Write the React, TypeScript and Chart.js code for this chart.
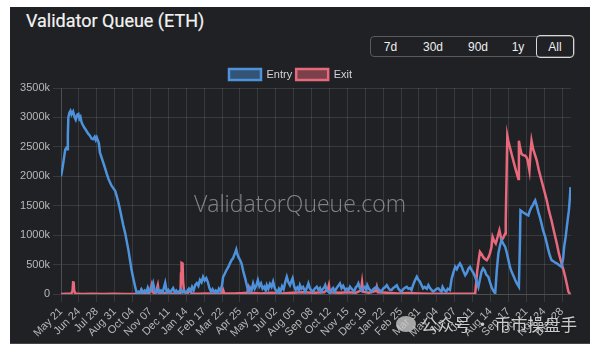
import React, { useEffect, useRef } from 'react';
import { Chart, registerables } from 'chart.js';

Chart.register(...registerables);

// Day offsets from 2023-05-21 and queue sizes in thousands of ETH
const entryDays = [
  0, 3, 6, 8, 10, 12, 13, 14, 16, 18, 20, 23, 26, 28, 31, 33, 35, 37, 39, 41, 44, 47, 49, 52, 55, 58, 61, 64, 66, 68, 70, 72, 74, 77, 80, 84, 87, 90, 93, 96, 100, 103, 106, 109, 112, 115, 118, 122, 125, 128, 131, 134, 137, 141, 144,
  147, 150, 153, 156, 159, 162, 165, 168, 171, 175, 178, 181, 184, 187, 190, 193, 196, 198, 201, 204, 207, 210, 213, 216, 219, 222, 225, 228, 231, 234, 237, 240, 243, 246, 249, 252, 255, 258, 261, 264, 267, 270, 273, 276, 279, 282, 285, 288, 291, 294, 297, 300, 303, 306,
  308, 311, 314, 318, 321, 324, 327, 329, 331, 333, 335, 337, 340, 343, 346, 348, 350, 353, 356, 359, 362, 365, 368, 371, 374, 377, 380, 383, 386, 389, 391, 394, 397, 400, 403, 406, 409, 411, 414, 417, 420, 423, 426, 429, 432, 435, 438, 440, 443, 446, 449, 452, 454, 457, 460, 464, 467, 470, 473, 476, 479, 482, 486, 489, 492, 494, 497, 500, 502, 505, 508, 511, 514, 517, 520, 523, 526, 530, 533, 536, 540, 543, 546, 549, 552, 555, 557, 560, 563, 565, 568, 571, 574, 577, 580, 582, 585, 588, 590, 593, 596, 600, 603, 606, 609, 612, 615, 619, 622, 625, 628, 631, 634, 638, 641, 644, 647, 650, 654, 657, 660, 663, 666, 669, 672, 676, 679, 682, 685, 688, 691, 695, 698, 701, 704, 707, 710, 714, 717, 720, 723, 725, 728, 732, 735, 739,
  742, 745, 749, 752, 755, 758, 761, 764, 768, 771, 774, 777, 780, 784, 787, 790, 793, 796, 799, 802, 805, 808, 812, 815, 818, 821, 825, 828, 831, 834, 837, 840, 844, 847, 850, 853, 856, 860, 863, 866, 870, 872, 873, 876, 879, 882, 885, 888, 891, 894, 897, 899, 901, 904, 907, 910, 913, 916, 920, 923, 926, 929, 932, 935, 938, 942, 945, 948, 951, 954, 956, 959, 961, 963, 965, 967, 968,
];
const entryValues = [
  2000, 2150, 2330, 2450, 2480, 2460, 2700, 3000, 3080, 3110, 3050, 3100, 3000, 2960, 3050, 3060, 2980, 3010, 2920, 2880, 2830, 2790, 2760, 2720, 2690, 2640, 2630, 2670, 2620, 2660, 2610, 2560, 2400, 2320, 2240, 2130, 2040, 1960, 1900, 1840, 1790, 1750, 1660, 1560, 1440, 1310, 1180, 1030, 890, 750, 580, 410, 280, 120, 10,
  40, 20, 80, 30, 60, 20, 110, 40, 70, 185, 50, 20, 90, 30, 60, 20, 120, 190, 40, 70, 20, 60, 100, 30, 60, 20, 50, 80, 30, 60, 20, 50, 90, 40, 120, 60, 150, 185, 140, 240, 200, 290, 230, 270, 200, 100, 40, 80, 30, 60, 20, 90, 50, 150,
  290, 340, 400, 460, 520, 575, 610, 660, 700, 755, 680, 630, 580, 520, 400, 330, 265, 150, 40, 110, 60, 180, 90, 140, 237, 130, 180, 90, 123, 60, 150, 90, 170, 120, 208, 100, 50, 20, 90, 40, 130, 80, 200, 293, 200, 150, 220, 265, 130, 68, 110, 60, 150, 90, 120, 40, 100, 180, 90, 60, 40, 90, 123, 70, 100, 40, 80, 110, 150, 60, 40, 10, 70, 100, 40, 90, 130, 180, 100, 140, 68, 90, 60, 123, 90, 60, 40, 110, 140, 180, 100, 60, 96, 120, 70, 150, 90, 60, 40, 80, 100, 123, 80, 60, 40, 90, 110, 150, 100, 70, 68, 100, 120, 150, 90, 60, 40, 80, 110, 123, 90, 100, 68, 150, 220, 293, 240, 208, 150, 96, 120, 90, 150, 100, 70, 40, 60, 90, 96, 60, 40, 120, 70, 40, 90, 68,
  250, 350, 460, 420, 480, 520, 470, 400, 320, 360, 430, 460, 410, 350, 290, 200, 120, 250, 380, 435, 400, 330, 290, 200, 120, 60, 10, 400, 690, 820, 913, 860, 800, 700, 580, 460, 380, 300, 237, 180, 123, 900, 1420, 1400, 1380, 1365, 1350, 1336, 1420, 1477, 1520, 1560, 1590, 1500, 1392, 1300, 1195, 1080, 970, 860, 744, 650, 575, 560, 540, 520, 500, 480, 460, 600, 800, 980, 1138, 1280, 1420, 1650, 1815,
];

const exitDays = [
  0, 10, 20, 22, 23, 24, 25, 27, 40, 60, 80, 100, 120, 140, 150, 152, 155, 168, 172, 174, 180, 184, 186, 195, 205, 207, 220, 227, 228, 229, 231, 232, 234, 240, 246, 248, 260, 275, 290, 305, 308, 310, 330, 345, 354, 356, 358, 380, 400, 420, 440, 460, 480, 500, 507, 509, 511, 530, 545, 560, 570, 572, 574, 585, 598, 600, 602, 620, 640, 660, 680, 700, 720, 740, 760, 780, 787,
  791, 794, 796, 799, 802, 805, 809, 812, 815, 818, 820, 823, 826, 829, 833, 835, 837, 840, 844, 845, 847, 848, 850, 853, 857, 861, 865, 869, 870, 872, 875, 878, 882, 884, 886, 888, 890, 892, 894, 897, 900, 904, 908, 913, 918, 923, 927, 932, 937, 942, 946, 951, 955, 958, 961, 964, 966, 968,
];
const exitValues = [
  0, 5, 10, 60, 200, 210, 60, 10, 0, 5, 0, 5, 0, 5, 10, 60, 10, 20, 150, 30, 10, 150, 20, 10, 30, 10, 5, 20, 350, 530, 520, 200, 30, 10, 70, 10, 5, 10, 5, 10, 70, 10, 10, 15, 20, 100, 20, 10, 20, 10, 20, 30, 20, 30, 80, 150, 30, 20, 30, 20, 60, 200, 40, 20, 50, 120, 30, 20, 10, 15, 10, 5, 5, 5, 5, 5, 10,
  406, 600, 716, 680, 630, 600, 575, 620, 690, 800, 970, 900, 857, 950, 1082, 1000, 913, 950, 1026, 1250, 2200, 2690, 2600, 2490, 2350, 2210, 2080, 1956, 2605, 2500, 2380, 2360, 2350, 2330, 2295, 2200, 2097, 2400, 2605, 2464, 2380, 2266, 2100, 1928, 1760, 1590, 1420, 1250, 1050, 857, 690, 520, 400, 293, 170, 40, 10, 0,
];

const tickLabels = [
  'May 21', 'Jun 24', 'Jul 28', 'Aug 31', 'Oct 04', 'Nov 07', 'Dec 11', 'Jan 14', 'Feb 17', 'Mar 22',
  'Apr 25', 'May 29', 'Jul 02', 'Aug 05', 'Sep 08', 'Oct 12', 'Nov 15', 'Dec 19', 'Jan 22', 'Feb 25',
  'Mar 31', 'May 04', 'Jun 07', 'Jul 11', 'Aug 14', 'Sep 17', 'Oct 21', 'Nov 24', 'Dec 28',
];
const TICK_STEP_DAYS = 34;
const LAST_DAY = 969;
const yTickStep = 500000;
const yMax = 3500000;

const rangeButtons = ['7d', '30d', '90d', '1y', 'All'];

const BLUE = 'rgb(78,146,220)';
const PINK = 'rgb(232,104,124)';
const GRID = 'rgba(255,255,255,0.11)';
const TICK_COLOR = '#b8b8b8';
const FONT = '"Liberation Sans", Arial, Helvetica, sans-serif';

const legendSpacer = {
  id: 'legendSpacer',
  beforeInit(chart: any) {
    const origFit = chart.legend.fit;
    chart.legend.fit = function fit() {
      origFit.call(this);
      this.height -= 2;
    };
  },
};

export default function App() {
  const ref = useRef<HTMLCanvasElement>(null);

  useEffect(() => {
    if (!ref.current) return;
    const chart = new Chart(ref.current, {
      type: 'line',
      plugins: [legendSpacer],
      data: {
        datasets: [
          {
            label: 'Entry',
            data: entryDays.map((d, i) => ({ x: d, y: entryValues[i] * 1000 })),
            borderColor: BLUE,
            backgroundColor: 'rgba(78,146,220,0.45)',
            borderWidth: 2.5,
            pointRadius: 0,
            tension: 0,
          },
          {
            label: 'Exit',
            data: exitDays.map((d, i) => ({ x: d, y: exitValues[i] * 1000 })),
            borderColor: PINK,
            backgroundColor: 'rgba(232,104,124,0.45)',
            borderWidth: 2.5,
            pointRadius: 0,
            tension: 0,
          },
        ],
      },
      options: {
        animation: false,
        responsive: false,
        devicePixelRatio: 1,
        layout: { padding: { left: 0, right: 19, top: 0, bottom: 0 } },
        plugins: {
          legend: {
            labels: {
              color: '#d4d4d4',
              boxWidth: 32,
              boxHeight: 11,
              padding: 4,
              font: { size: 11, family: FONT },
            },
          },
          tooltip: { enabled: false },
        },
        scales: {
          x: {
            type: 'linear',
            min: 0,
            max: LAST_DAY,
            afterBuildTicks: (scale: any) => {
              scale.ticks = tickLabels.map((_, i) => ({ value: i * TICK_STEP_DAYS }));
            },
            afterFit: (scale: any) => {
              scale.height = 49;
            },
            ticks: {
              autoSkip: false,
              maxRotation: 45,
              minRotation: 45,
              color: TICK_COLOR,
              font: { size: 11, family: FONT },
              callback: (_v: any, i: number) => tickLabels[i],
            },
            grid: { color: GRID },
            border: { color: GRID },
          },
          y: {
            min: 0,
            max: yMax,
            afterFit: (scale: any) => {
              scale.width = 51;
            },
            ticks: {
              stepSize: yTickStep,
              color: TICK_COLOR,
              font: { size: 11, family: FONT },
              callback: (v: any) => (v === 0 ? '0' : `${Number(v) / 1000}k`),
            },
            grid: { color: GRID },
            border: { color: GRID },
          },
        },
      },
    });
    return () => chart.destroy();
  }, []);

  const btnWidths = [39, 46, 44, 36, 38];

  return (
    <div style={{ position: 'absolute', left: 0, top: 0, width: 600, height: 355, background: '#ffffff', overflow: 'hidden', fontFamily: FONT }}>
      <div style={{ position: 'absolute', left: 10, top: 7, width: 580, height: 336, background: '#1f2124', borderBottom: '1px solid #444' }} />
      <div style={{ position: 'absolute', left: 26, top: 10, color: '#f2f2f2', fontFamily: 'Roboto, "Liberation Sans", sans-serif', fontWeight: 400, fontSize: 18, lineHeight: '22px', letterSpacing: 0, WebkitTextStroke: '0.2px #f2f2f2' } as any}>
        Validator Queue (ETH)
      </div>
      <div style={{ position: 'absolute', left: 370, top: 36, height: 21, display: 'flex', border: '1px solid #5a5a5a', borderRadius: 4, boxSizing: 'border-box' }}>
        {rangeButtons.map((b, i) => (
          <div
            key={b}
            style={{
              width: btnWidths[i],
              height: i === 4 ? 23 : 19,
              marginTop: i === 4 ? -2 : 0,
              boxSizing: 'border-box',
              display: 'flex',
              alignItems: 'center',
              justifyContent: 'center',
              color: '#eeeeee',
              fontSize: 12,
              borderLeft: i > 0 && i < 4 ? '1px solid #5a5a5a' : 'none',
              border: i === 4 ? '1.5px solid #d8d8d8' : undefined,
              borderRadius: i === 4 ? 4 : 0,
            }}
          >
            {b}
          </div>
        ))}
      </div>
      <canvas ref={ref} width={580} height={278} style={{ position: 'absolute', left: 10, top: 65, width: 580, height: 278 }} />
      <div style={{ position: 'absolute', left: 0, width: 600, top: 187, textAlign: 'center', color: 'rgba(210,210,210,0.55)', fontSize: 23, fontFamily: '"Open Sans", "Liberation Sans", sans-serif', fontWeight: 300, pointerEvents: 'none' }}>
        ValidatorQueue.com
      </div>
      <div style={{ position: 'absolute', left: 396, top: 312, display: 'flex', alignItems: 'center', pointerEvents: 'none' }}>
        <div style={{ width: 20, height: 16, borderRadius: '50%', background: 'rgba(200,200,200,0.8)', marginRight: 5 }} />
        <span style={{ color: 'rgba(235,235,235,0.85)', fontSize: 16.5, fontFamily: '"Noto Sans CJK SC", sans-serif', textShadow: '0 0 2px rgba(0,0,0,0.6)' }}>
          公众号 · 币市操盘手
        </span>
      </div>
    </div>
  );
}
